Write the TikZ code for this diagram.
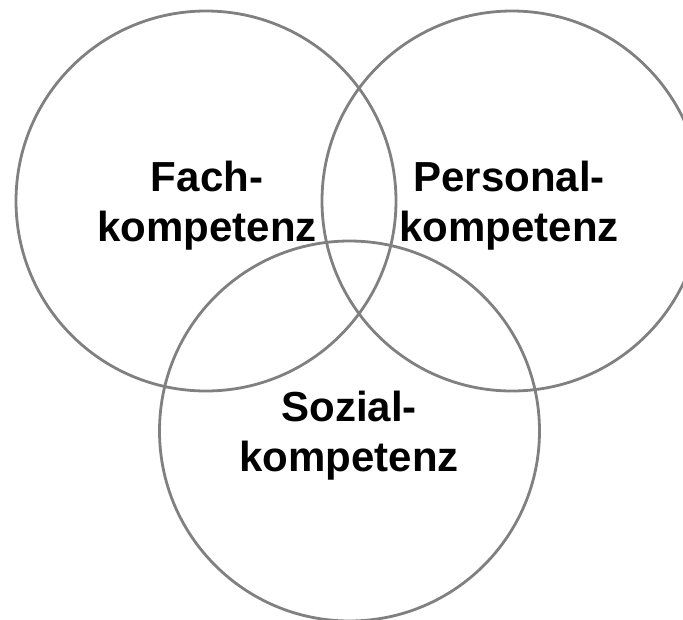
\documentclass[tikz,border=0pt]{standalone}
\usepackage{fontspec}
\setmainfont{Liberation Sans}
\begin{document}
\begin{tikzpicture}[x=1pt,y=-1pt,
  ring/.style={draw=ringgray,line width=2.8pt,circle,minimum size=380pt,inner sep=0pt},
  label/.style={align=center,font=\fontsize{42}{50}\selectfont\bfseries,inner sep=0pt}]
\definecolor{ringgray}{HTML}{808080}
\useasboundingbox (0,0) rectangle (683,619);
\node[ring] (fachc) at (206,201) {};
\node[ring] (persc) at (512,201) {};
\node[ring] (sozc) at (349.5,431) {};
\node[label] (fach) at (207,206) {Fach-\\kompetenz};
\node[label] (pers) at (509,206) {Personal-\\kompetenz};
\node[label] (soz) at (349,436) {Sozial-\\kompetenz};
\end{tikzpicture}
\end{document}
